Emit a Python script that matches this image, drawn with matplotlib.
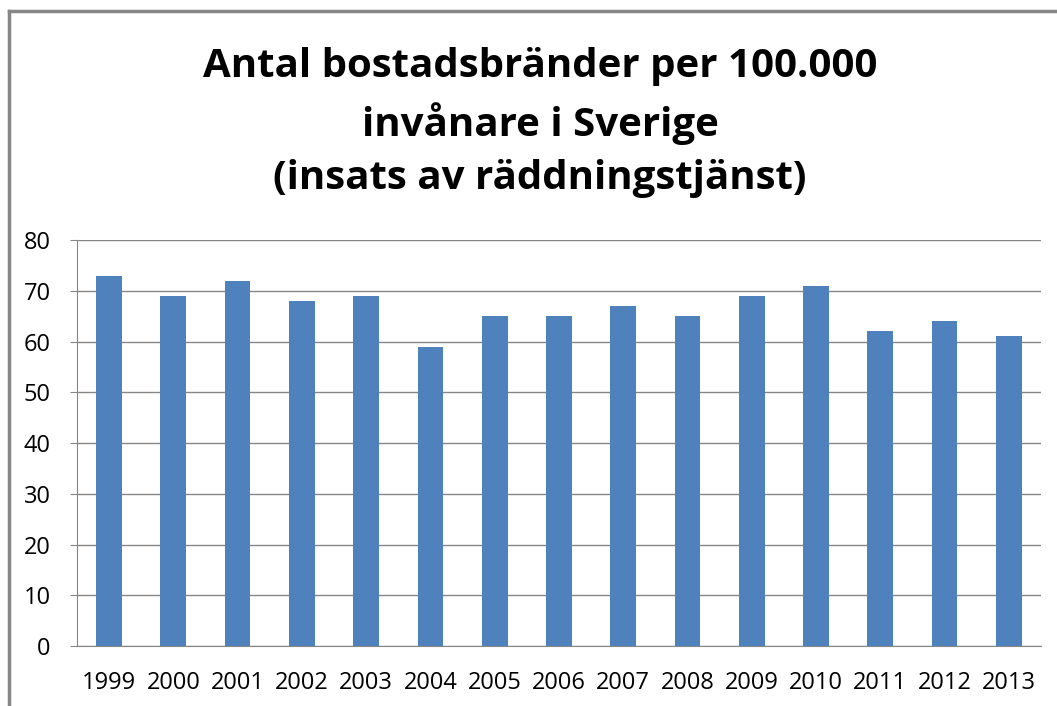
import numpy as np
import matplotlib.pyplot as plt

years = ['1999', '2000', '2001', '2002', '2003', '2004', '2005', '2006',
         '2007', '2008', '2009', '2010', '2011', '2012', '2013']
fires = [73, 69, 72, 68, 69, 59, 65, 65, 67, 65, 69, 71, 62, 64, 61]

plt.rcParams['font.family'] = ['Open Sans', 'DejaVu Sans']

fig = plt.figure(figsize=(10.57, 7.06), dpi=100)
ax = fig.add_axes([0.0728, 0.085, 0.912, 0.575])

x = np.arange(len(years))
ax.bar(x, fires, width=0.4, color='#4F81BD', zorder=3)

ax.set_xlim(-0.5, len(years) - 0.5)
ax.set_ylim(0, 80)
ax.set_yticks(range(0, 81, 10))
ax.set_xticks(x)
ax.set_xticklabels(years)
ax.grid(axis='y', color='#868686', linewidth=1, zorder=0)
ax.set_axisbelow(True)

for s in ['top', 'right']:
    ax.spines[s].set_visible(False)
for s in ['left', 'bottom']:
    ax.spines[s].set_color('#868686')
ax.tick_params(axis='y', length=5, color='#868686', labelsize=17, pad=14)
ax.tick_params(axis='x', length=0, labelsize=17, pad=18)

fig.text(0.511, 0.826, 'Antal bostadsbränder per 100.000\ninvånare i Sverige\n(insats av räddningstjänst)',
         ha='center', va='center', fontsize=29, fontweight='bold', linespacing=1.47)

# chart frame (left and top edges visible)
fig.add_artist(plt.Line2D([0.0085, 0.0085], [0, 0.985], color='#868686', lw=2.5,
                          transform=fig.transFigure))
fig.add_artist(plt.Line2D([0.0085, 1], [0.985, 0.985], color='#868686', lw=2.5,
                          transform=fig.transFigure))

fig.savefig('out.png', dpi=100)
